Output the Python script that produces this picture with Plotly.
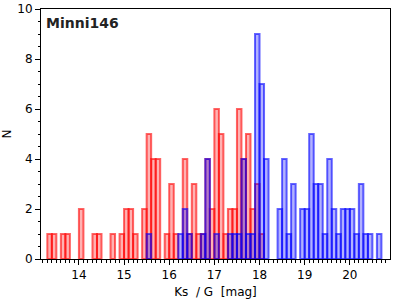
import plotly.graph_objects as go

# Histogram bin centres (mag) and counts
ks_bins = [13.35, 13.45, 13.65, 13.75, 14.05, 14.35, 14.45, 14.75, 14.95, 15.05,
           15.15, 15.25, 15.45, 15.55, 15.65, 15.75, 15.95, 16.05, 16.15, 16.35,
           16.45, 16.55, 16.65, 16.75, 16.85, 16.95, 17.05, 17.15, 17.25, 17.35,
           17.45, 17.55, 17.65, 17.75, 17.85, 17.95, 18.05]
ks_counts = [1, 1, 1, 1, 2, 1, 1, 1, 1, 2,
             2, 1, 2, 5, 4, 4, 1, 3, 1, 4,
             1, 3, 1, 1, 4, 2, 6, 5, 1, 2,
             2, 6, 4, 5, 2, 3, 1]

g_bins = [15.55, 16.25, 16.35, 16.45, 16.75, 16.85, 17.05, 17.35, 17.45, 17.55,
          17.65, 17.75, 17.85, 17.95, 18.05, 18.15, 18.45, 18.55, 18.65, 18.75,
          18.95, 19.05, 19.15, 19.25, 19.35, 19.45, 19.55, 19.65, 19.75, 19.85,
          19.95, 20.05, 20.15, 20.25, 20.35, 20.45, 20.65]
g_counts = [1, 1, 2, 1, 1, 4, 1, 1, 1, 1,
            4, 1, 1, 9, 7, 4, 2, 4, 1, 3,
            2, 2, 5, 3, 3, 1, 4, 2, 1, 2,
            2, 2, 1, 3, 1, 1, 1]

bin_width = 0.1
x_ticks = [14, 15, 16, 17, 18, 19, 20]
y_ticks = [0, 2, 4, 6, 8, 10]

fig = go.Figure()
fig.add_trace(go.Bar(
    x=ks_bins, y=ks_counts, width=bin_width, name="Ks",
    marker=dict(color="rgba(255,0,0,0.3)",
                line=dict(color="rgba(255,0,0,0.6)", width=2)),
))
fig.add_trace(go.Bar(
    x=g_bins, y=g_counts, width=bin_width, name="G",
    marker=dict(color="rgba(0,0,255,0.3)",
                line=dict(color="rgba(0,0,255,0.6)", width=2)),
))

font = "DejaVu Sans"
fig.update_layout(
    width=400, height=300,
    margin=dict(l=41, r=10, t=9, b=41, autoexpand=False),
    barmode="overlay",
    showlegend=False,
    plot_bgcolor="white", paper_bgcolor="white",
    font=dict(family=font, size=11, color="black"),
    annotations=[dict(
        text="<b>Minni146</b>", xref="paper", yref="paper", x=0.008, y=0.985,
        xanchor="left", yanchor="top", showarrow=False,
        font=dict(family=font, size=14, color="#222222"),
    )],
)
fig.update_xaxes(
    range=[13.16, 20.89], tickvals=x_ticks, ticktext=[str(v) for v in x_ticks],
    showgrid=False, zeroline=False, automargin=False,
    showline=True, linecolor="black", linewidth=1, mirror=True,
    ticks="outside", ticklen=5, tickcolor="black",
    minor=dict(dtick=0.1, tick0=0, ticks="outside", ticklen=2.5, tickcolor="black"),
    title=dict(text="Ks\u00a0\u00a0/\u00a0G\u00a0\u00a0[mag]", font=dict(size=12), standoff=6),
    tickfont=dict(size=12),
)
fig.update_yaxes(
    range=[0, 10], tickvals=y_ticks, ticktext=[str(v) for v in y_ticks],
    showgrid=False, zeroline=False, automargin=False,
    showline=True, linecolor="black", linewidth=1, mirror=True,
    ticks="outside", ticklen=5, tickcolor="black",
    minor=dict(dtick=0.5, tick0=0, ticks="outside", ticklen=2.5, tickcolor="black"),
    title=dict(text="N", font=dict(size=12), standoff=10),
    tickfont=dict(size=12),
)

fig.write_html("out.html", config={"displayModeBar": False},
               post_script="document.body.style.margin='0';document.body.style.overflow='hidden';")
